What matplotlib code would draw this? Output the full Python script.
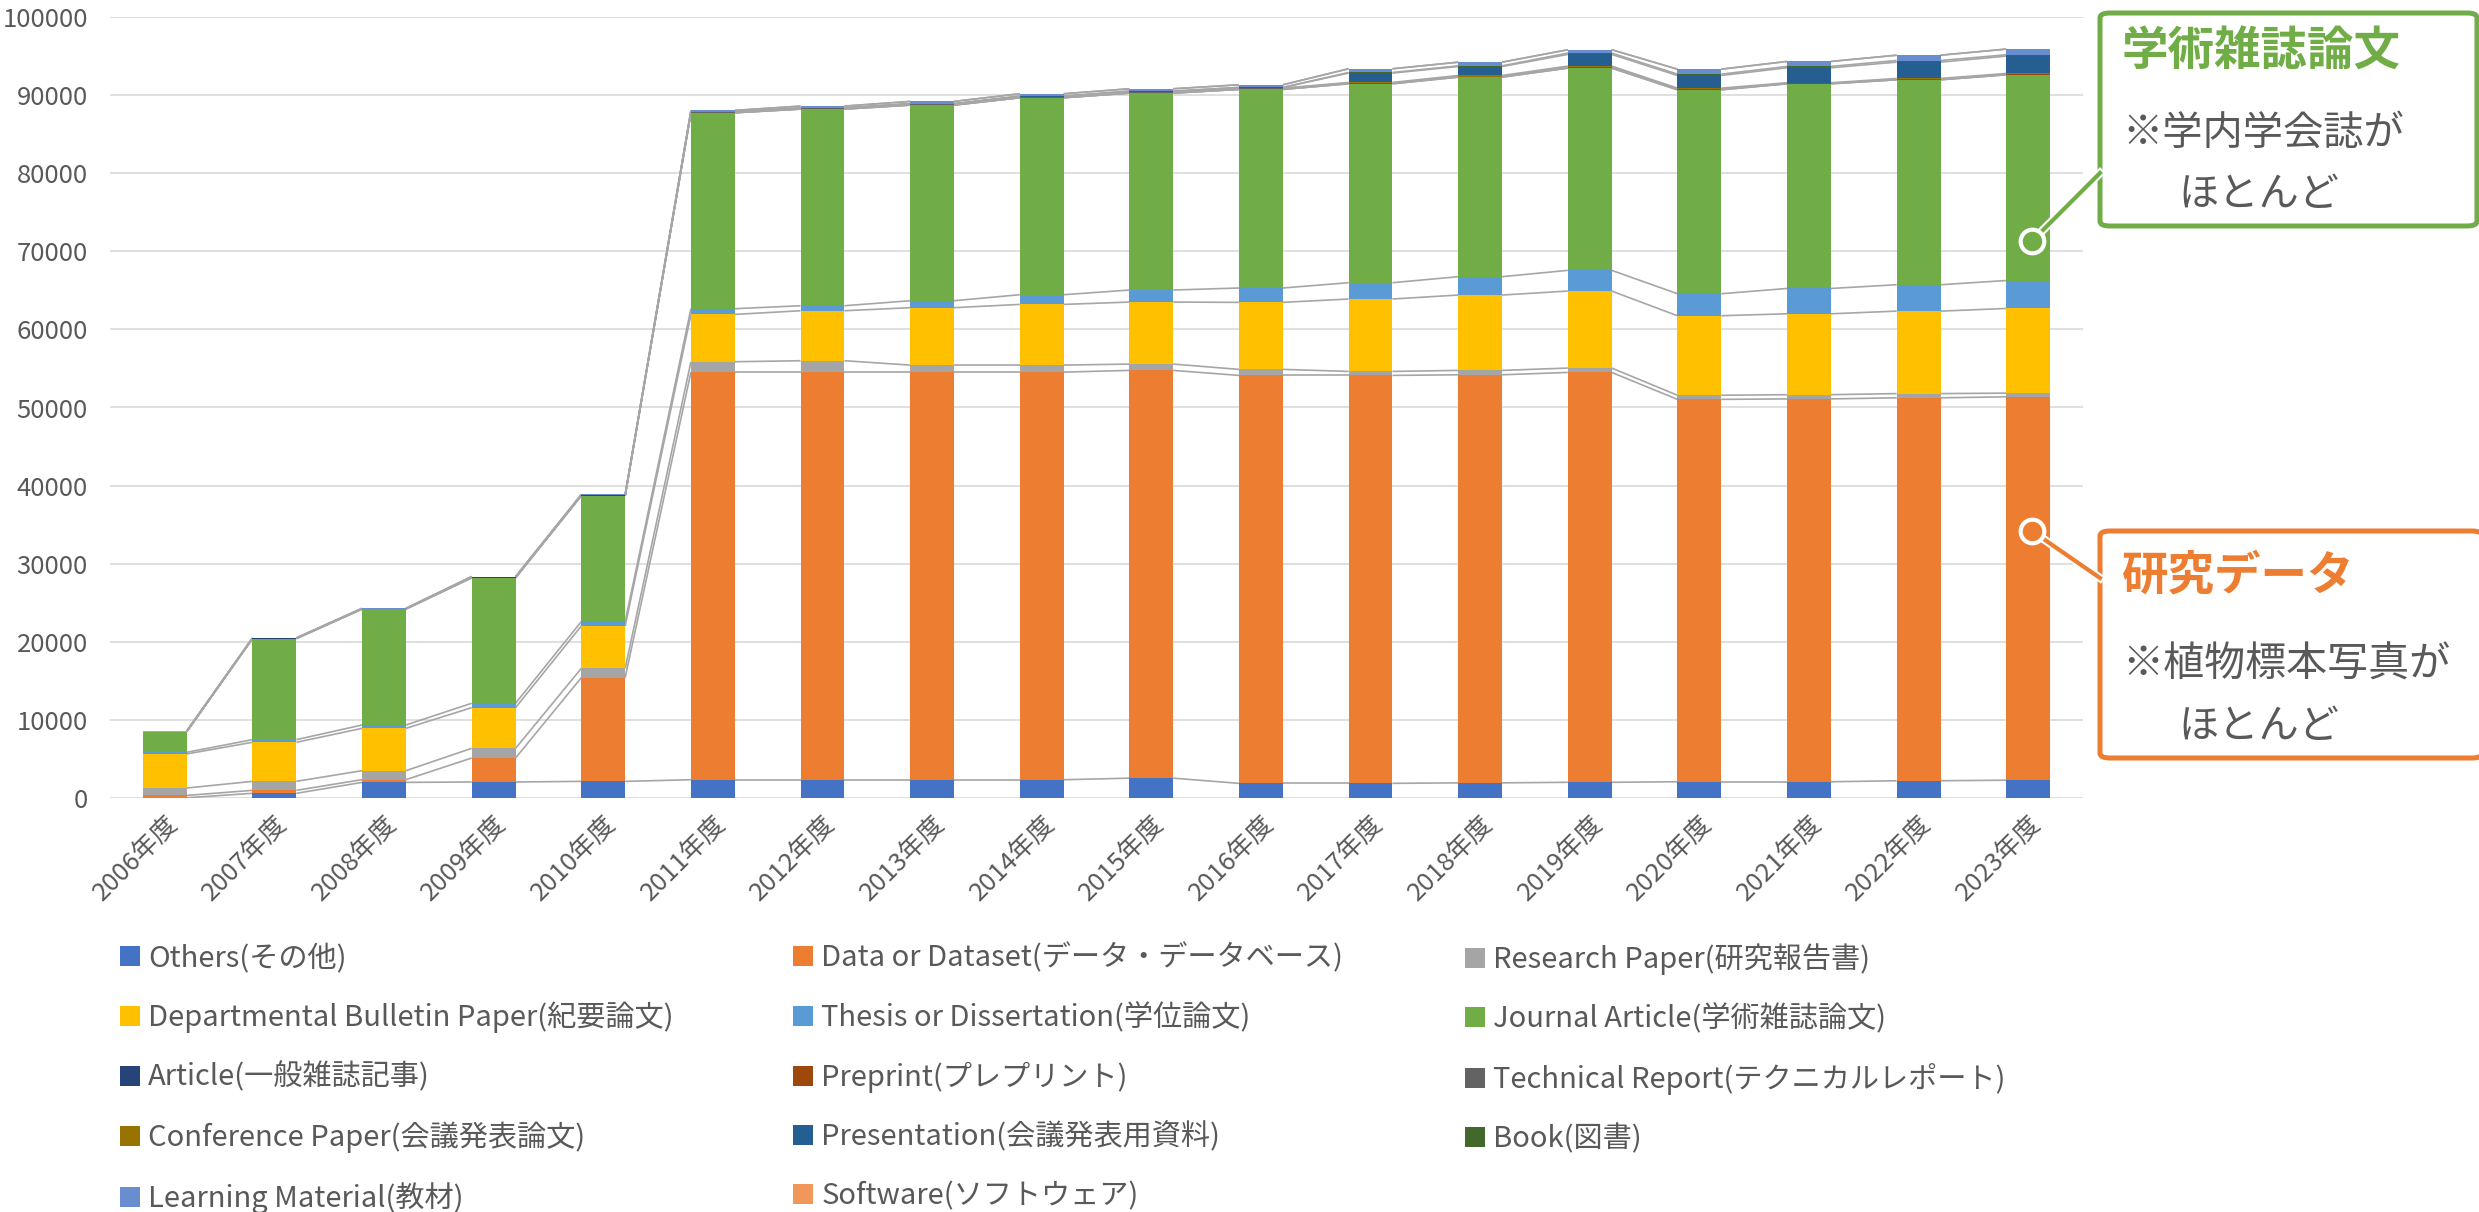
import numpy as np
import matplotlib
matplotlib.use("Agg")
import matplotlib.pyplot as plt
from matplotlib.patches import Patch, FancyBboxPatch
from matplotlib.lines import Line2D
import matplotlib.patheffects as pe

plt.rcParams["font.family"] = ["Noto Sans CJK JP", "DejaVu Sans"]

years = ["2006年度", "2007年度", "2008年度", "2009年度", "2010年度", "2011年度",
         "2012年度", "2013年度", "2014年度", "2015年度", "2016年度", "2017年度",
         "2018年度", "2019年度", "2020年度", "2021年度", "2022年度", "2023年度"]

others = [30, 600, 2000, 2050, 2130, 2340, 2340, 2340, 2340, 2540, 1875, 1875, 1940, 2010, 2080, 2080, 2210, 2280]
dataset = [300, 380, 350, 3070, 13280, 52190, 52190, 52190, 52190, 52210, 52235, 52235, 52250, 52480, 48960, 49020, 49030, 49090]
research = [950, 1150, 1150, 1240, 1190, 1330, 1460, 900, 900, 810, 770, 510, 560, 560, 530, 540, 540, 470]
bulletin = [4360, 5000, 5420, 5210, 5430, 6060, 6400, 7350, 7770, 7940, 8580, 9270, 9650, 9860, 10180, 10360, 10560, 10840]
thesis = [210, 340, 430, 560, 560, 730, 640, 890, 1240, 1540, 1840, 2090, 2350, 2650, 2820, 3240, 3380, 3580]
journal = [2650, 12930, 14820, 16050, 16100, 25090, 25180, 25050, 25220, 25220, 25430, 25470, 25550, 25900, 26110, 26210, 26240, 26340]
article = [0, 40, 60, 60, 60, 0, 0, 0, 0, 0, 0, 0, 0, 0, 0, 0, 0, 0]
preprint = [0, 0, 0, 0, 0, 0, 0, 0, 0, 0, 0, 80, 80, 100, 80, 50, 70, 70]
techreport = [0, 0, 0, 0, 0, 100, 130, 170, 150, 150, 150, 0, 0, 0, 0, 0, 0, 0]
conference = [0, 0, 0, 0, 0, 0, 0, 0, 0, 0, 0, 90, 130, 150, 130, 80, 100, 100]
presentation = [0, 0, 0, 0, 0, 0, 0, 0, 60, 100, 100, 1200, 1150, 1500, 1620, 1920, 2090, 2220]
book = [0, 0, 0, 0, 0, 0, 0, 0, 0, 0, 0, 80, 85, 170, 170, 170, 210, 170]
learning = [0, 60, 60, 120, 120, 200, 250, 300, 300, 300, 340, 470, 470, 430, 640, 640, 680, 730]
software = [130, 0, 0, 0, 0, 0, 0, 0, 0, 0, 0, 0, 0, 0, 0, 0, 0, 0]

labels = ["Others(その他)", "Data or Dataset(データ・データベース)", "Research Paper(研究報告書)",
          "Departmental Bulletin Paper(紀要論文)", "Thesis or Dissertation(学位論文)",
          "Journal Article(学術雑誌論文)", "Article(一般雑誌記事)", "Preprint(プレプリント)",
          "Technical Report(テクニカルレポート)", "Conference Paper(会議発表論文)",
          "Presentation(会議発表用資料)", "Book(図書)", "Learning Material(教材)",
          "Software(ソフトウェア)"]
colors = ["#4472C4", "#ED7D31", "#A5A5A5", "#FFC000", "#5B9BD5", "#70AD47", "#264478",
          "#9E480E", "#636363", "#997300", "#255E91", "#43682B", "#698ED0", "#F1975A"]
series = [others, dataset, research, bulletin, thesis, journal, article, preprint,
          techreport, conference, presentation, book, learning, software]

W, H = 2479, 1212
fig = plt.figure(figsize=(W / 100, H / 100), dpi=100)
ax = fig.add_axes([110 / W, 1 - 798 / H, 1973 / W, 781 / H])

x = np.arange(len(years))
w = 0.4
bottom = np.zeros(len(years))
tops = []
for vals, col in zip(series, colors):
    vals = np.array(vals, dtype=float)
    ax.bar(x, vals, w, bottom=bottom, color=col, zorder=3, linewidth=0)
    bottom = bottom + vals
    tops.append(bottom.copy())

# series lines (Excel style)
for t in tops:
    for i in range(len(x) - 1):
        ax.plot([x[i] + w / 2, x[i + 1] - w / 2], [t[i], t[i + 1]],
                color="#A6A6A6", lw=1.2, zorder=2, solid_capstyle="butt")

ax.set_xlim(-0.5, len(years) - 0.5)
ax.set_ylim(0, 100000)
ax.set_yticks(np.arange(0, 100001, 10000))
ax.set_yticklabels([str(v) for v in range(0, 100001, 10000)])
ax.set_xticks(x)
ax.set_xticklabels(years, rotation=45, ha="right", va="top", rotation_mode="anchor")
ax.tick_params(axis="both", length=0, labelsize=18.5, labelcolor="#595959")
ax.tick_params(axis="y", pad=16)
ax.tick_params(axis="x", pad=9)
ax.grid(axis="y", color="#D9D9D9", lw=1.2, zorder=0)
ax.set_axisbelow(True)
for s in ax.spines.values():
    s.set_visible(False)

# legend: three columns, filled row by row
handles = [Patch(facecolor=c, edgecolor="none") for c in colors]
col_x = [120, 793, 1465]
for ci, cx in enumerate(col_x):
    idx = list(range(ci, len(labels), 3))
    fig.legend([handles[i] for i in idx], [labels[i] for i in idx],
               loc="upper left", bbox_to_anchor=(cx / W, 1 - 943 / H),
               frameon=False, fontsize=21, labelcolor="#595959",
               handlelength=0.67, handleheight=0.67, handletextpad=0.3,
               labelspacing=0.99, borderaxespad=0, borderpad=0)


def fx(px):
    return px / W


def fy(py):
    return 1 - py / H


green = "#70AD47"
orange = "#ED7D31"

# callout boxes
for (x0, y0, x1, y1, col) in [(2100, 13, 2477, 226, green), (2100, 531, 2482, 758, orange)]:
    box = FancyBboxPatch((fx(x0), fy(y1)), fx(x1 - x0), (y1 - y0) / H,
                         boxstyle="round,pad=0,rounding_size=0.004",
                         transform=fig.transFigure, facecolor="white",
                         edgecolor=col, lw=3.6, zorder=5)
    fig.add_artist(box)

# connector lines with circle
for (cx, cy, ex, ey, col) in [(2032, 241, 2100, 173, green), (2032, 531, 2100, 578, orange)]:
    ln = Line2D([fx(cx), fx(ex)], [fy(cy), fy(ey)], transform=fig.transFigure,
                color=col, lw=3, zorder=6,
                path_effects=[pe.Stroke(linewidth=6, foreground="white"), pe.Normal()])
    fig.add_artist(ln)
    mk = Line2D([fx(cx)], [fy(cy)], transform=fig.transFigure, marker="o",
                markersize=17, markerfacecolor=col, markeredgecolor="white",
                markeredgewidth=3, zorder=7)
    fig.add_artist(mk)

fig.text(fx(2122), fy(52), "学術雑誌論文", fontsize=33.5, fontweight="bold", color=green,
         va="center", ha="left", zorder=8)
fig.text(fx(2122), fy(133), "※学内学会誌が", fontsize=29, color="#595959",
         va="center", ha="left", zorder=8)
fig.text(fx(2178), fy(194), "ほとんど", fontsize=29, color="#595959",
         va="center", ha="left", zorder=8)
fig.text(fx(2122), fy(575), "研究データ", fontsize=33.5, fontweight="bold", color=orange,
         va="center", ha="left", zorder=8)
fig.text(fx(2122), fy(665), "※植物標本写真が", fontsize=29.5, color="#595959",
         va="center", ha="left", zorder=8)
fig.text(fx(2178), fy(727), "ほとんど", fontsize=29, color="#595959",
         va="center", ha="left", zorder=8)

fig.savefig("out.png", dpi=100)
